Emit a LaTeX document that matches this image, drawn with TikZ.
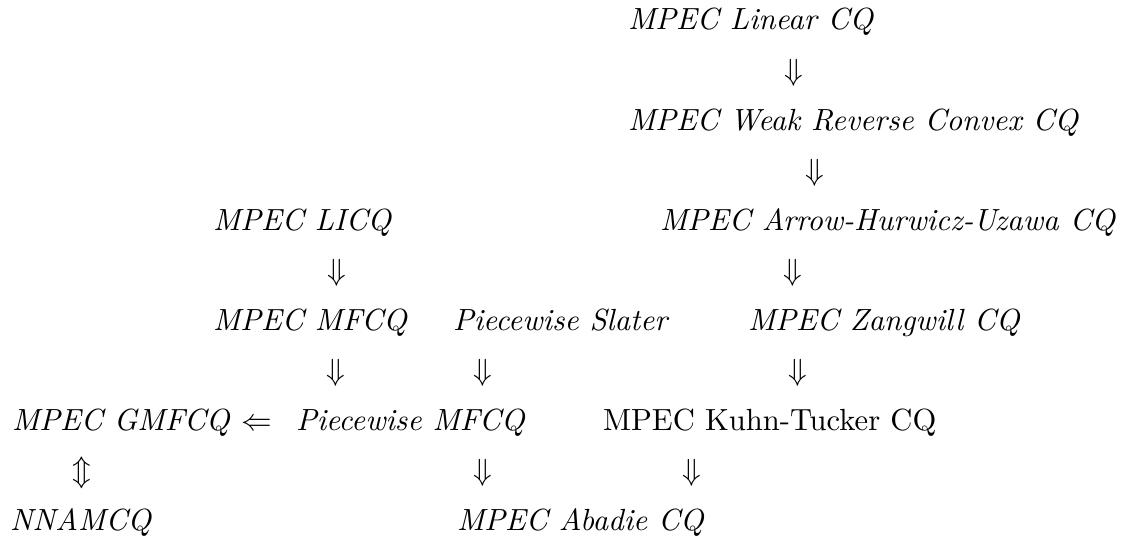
\documentclass[tikz,border=0pt]{standalone}
\begin{document}
\begin{tikzpicture}[x=0.3268pt,y=-0.3268pt,
  lbl/.style={anchor=base west,inner sep=0pt,outer sep=0pt,font=\itshape},
  rlbl/.style={anchor=base west,inner sep=0pt,outer sep=0pt},
  imp/.style={anchor=base,inner sep=0pt,outer sep=0pt}]
\useasboundingbox (0,0) rectangle (1143,538);
% row texts
\node[lbl] (lin) at (628,30) {MPEC Linear CQ};
\node[lbl] (wrc) at (628,130) {MPEC Weak Reverse Convex CQ};
\node[lbl] (licq) at (213,230) {MPEC LICQ};
\node[lbl] (ahu) at (660,230) {MPEC Arrow-Hurwicz-Uzawa CQ};
\node[lbl] (mfcq) at (213,330) {MPEC MFCQ};
\node[lbl] (pws) at (453,330) {Piecewise Slater};
\node[lbl] (zang) at (748,330) {MPEC Zangwill CQ};
\node[lbl] (gmfcq) at (12,430) {MPEC GMFCQ};
\node[lbl] (pwm) at (296,430) {Piecewise MFCQ};
\node[rlbl] (kt) at (603,430) {MPEC Kuhn-Tucker CQ};
\node[lbl] (nnam) at (10,530) {NNAMCQ};
\node[lbl] (abad) at (457,530) {MPEC Abadie CQ};
% implication symbols
\node[imp] (i1) at (794,80) {$\Downarrow$};
\node[imp] (i2) at (815,180) {$\Downarrow$};
\node[imp] (i3) at (337,280) {$\Downarrow$};
\node[imp] (i4) at (793,280) {$\Downarrow$};
\node[imp] (i5) at (336,380) {$\Downarrow$};
\node[imp] (i6) at (483,380) {$\Downarrow$};
\node[imp] (i7) at (798,380) {$\Downarrow$};
\node[imp] (i8) at (257,430) {$\Leftarrow$};
\node[imp] (i9) at (82,480) {$\Updownarrow$};
\node[imp] (i10) at (483,480) {$\Downarrow$};
\node[imp] (i11) at (692,480) {$\Downarrow$};
\end{tikzpicture}
\end{document}
